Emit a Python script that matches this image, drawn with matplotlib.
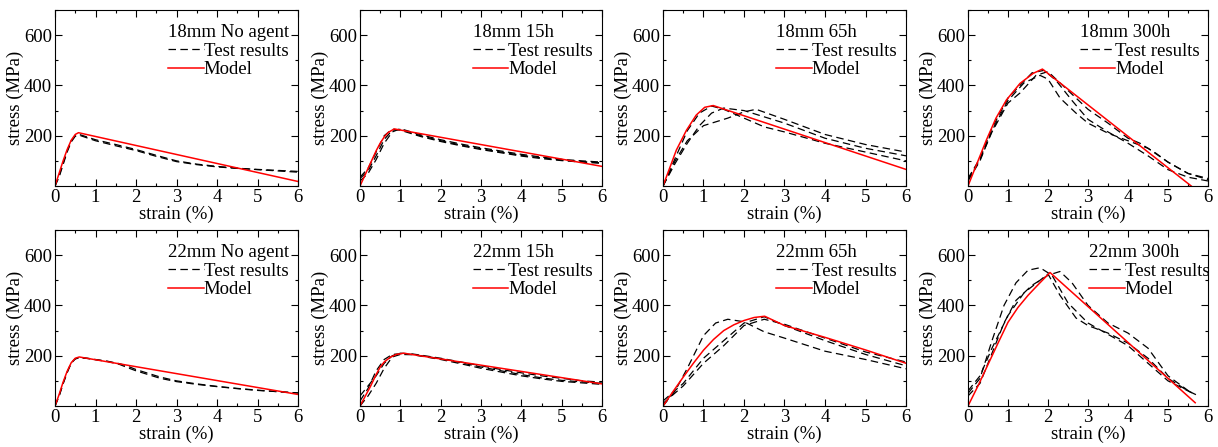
"""
Stress-strain curves: test results vs model, 18mm / 22mm bars under different exposure times.
"""
import numpy as np
import matplotlib
matplotlib.use("Agg")
import matplotlib.pyplot as plt
from matplotlib import rcParams
from matplotlib.ticker import MultipleLocator, FixedLocator

rcParams["font.family"] = "serif"
rcParams["font.serif"] = ["Liberation Serif", "DejaVu Serif"]
rcParams["font.size"] = 13.5

# ── 18mm No agent ────────────────────────────────────────────────────────────
NA18_MODEL_STRAIN = [0, 0.1, 0.2, 0.3, 0.4, 0.5, 0.58, 6.0]
NA18_MODEL_STRESS = [0, 50, 100, 145, 182, 205, 212, 18]
NA18_TEST_STRAIN = [0, 0.1, 0.2, 0.3, 0.4, 0.5, 0.6, 1.0, 1.5, 2.0, 2.5, 3.0, 3.5, 4.0, 4.5, 5.0, 5.5, 6.0]
NA18_TEST_STRESS = [
    [0, 40, 90, 140, 180, 200, 205, 184, 165, 145, 122, 100, 87, 78, 71, 65, 60, 55],
    [0, 35, 85, 135, 175, 198, 202, 180, 160, 141, 118, 97, 85, 76, 70, 66, 62, 58],
]

# ── 18mm 15h ─────────────────────────────────────────────────────────────────
H15_18_MODEL_STRAIN = [0, 0.1, 0.2, 0.3, 0.4, 0.5, 0.6, 0.7, 0.85, 6.0]
H15_18_MODEL_STRESS = [0, 35, 70, 105, 140, 170, 195, 213, 227, 78]
H15_18_TEST_STRAIN = [0, 0.2, 0.4, 0.6, 0.8, 1.0, 1.5, 2.0, 2.5, 3.0, 3.5, 4.0, 4.5, 5.0, 5.5, 6.0]
H15_18_TEST_STRESS = [
    [30, 60, 120, 185, 222, 225, 200, 180, 163, 148, 135, 122, 112, 103, 97, 92],
    [20, 50, 105, 170, 215, 228, 204, 184, 167, 152, 139, 126, 115, 106, 100, 95],
    [35, 70, 135, 200, 226, 222, 197, 177, 160, 145, 132, 119, 109, 101, 95, 90],
]

# ── 18mm 65h ─────────────────────────────────────────────────────────────────
H65_18_MODEL_STRAIN = [0, 0.15, 0.33, 0.58, 0.82, 1.03, 1.24, 6.0]
H65_18_MODEL_STRESS = [0, 65, 143, 222, 282, 313, 320, 66]
H65_18_TEST_STRAIN = [
    [0, 0.3, 0.6, 0.9, 1.2, 1.5, 2.0, 2.5, 3.0, 4.0, 5.0, 6.0],
    [0, 0.3, 0.6, 1.0, 1.3, 1.6, 2.0, 2.3, 3.0, 4.0, 5.0, 6.0],
    [0, 0.3, 0.6, 0.9, 1.2, 1.5, 2.0, 2.5, 3.0, 4.0, 5.0, 6.0],
]
H65_18_TEST_STRESS = [
    [0, 90, 170, 240, 290, 310, 300, 275, 250, 190, 150, 120],
    [0, 100, 180, 240, 255, 270, 295, 305, 265, 205, 165, 135],
    [0, 110, 220, 290, 318, 305, 270, 235, 215, 170, 135, 100],
]

# ── 18mm 300h ────────────────────────────────────────────────────────────────
H300_18_MODEL_STRAIN = [0, 0.2, 0.46, 0.7, 0.96, 1.3, 1.63, 1.86, 5.58]
H300_18_MODEL_STRESS = [0, 80, 183, 270, 342, 408, 448, 465, 0]
H300_18_TEST_STRAIN = [
    [0, 0.3, 0.6, 1.0, 1.4, 1.8, 2.0, 2.3, 2.7, 3.0, 3.5, 4.0, 4.5, 5.0, 5.5, 6.0],
    [0, 0.3, 0.6, 1.0, 1.3, 1.6, 1.9, 2.2, 2.6, 3.0, 3.5, 4.0, 4.5, 5.0, 5.5, 6.0],
    [0, 0.3, 0.6, 1.0, 1.3, 1.7, 2.0, 2.4, 3.0, 3.5, 4.0, 4.3, 4.7, 5.0, 5.5, 6.0],
]
H300_18_TEST_STRESS = [
    [20, 100, 220, 340, 410, 440, 425, 350, 290, 250, 210, 180, 150, 95, 50, 25],
    [30, 110, 230, 350, 400, 450, 460, 420, 340, 265, 215, 170, 120, 65, 35, 20],
    [25, 105, 215, 330, 370, 440, 455, 395, 305, 250, 190, 170, 130, 95, 50, 30],
]

# ── 22mm No agent ────────────────────────────────────────────────────────────
NA22_MODEL_STRAIN = [0, 0.1, 0.2, 0.3, 0.4, 0.5, 0.6, 6.0]
NA22_MODEL_STRESS = [0, 45, 95, 138, 172, 190, 195, 46]
NA22_TEST_STRAIN = [0, 0.1, 0.2, 0.3, 0.4, 0.5, 0.6, 0.8, 1.0, 1.3, 1.6, 1.8, 2.0, 2.3, 2.6,
                    3.0, 3.5, 4.0, 4.5, 5.0, 5.5, 6.0]
NA22_TEST_STRESS = [
    [0, 40, 90, 135, 172, 188, 193, 190, 185, 178, 168, 158, 145, 130, 115, 100, 88, 78, 70, 63, 57, 52],
    [0, 38, 88, 132, 170, 187, 192, 189, 184, 177, 165, 152, 140, 125, 110, 97, 86, 77, 69, 62, 57, 52],
]

# ── 22mm 15h ─────────────────────────────────────────────────────────────────
H15_22_MODEL_STRAIN = [0, 0.1, 0.25, 0.4, 0.5, 0.6, 0.75, 0.9, 1.08, 6.0]
H15_22_MODEL_STRESS = [0, 30, 75, 125, 155, 175, 194, 205, 210, 88]
H15_22_TEST_STRAIN = [0, 0.2, 0.4, 0.6, 0.8, 1.0, 1.3, 1.6, 2.0, 2.5, 3.0, 3.5, 4.0, 4.5, 5.0, 5.5, 6.0]
H15_22_TEST_STRESS = [
    [20, 70, 140, 185, 205, 208, 205, 198, 188, 172, 155, 140, 125, 112, 102, 96, 90],
    [40, 80, 120, 170, 200, 210, 207, 200, 190, 175, 160, 145, 132, 120, 110, 100, 95],
    [0, 40, 90, 150, 195, 205, 204, 196, 185, 168, 150, 135, 120, 108, 98, 92, 86],
]

# ── 22mm 65h ─────────────────────────────────────────────────────────────────
H65_22_MODEL_STRAIN = [0, 0.25, 0.5, 0.75, 1.0, 1.25, 1.5, 1.75, 2.0, 2.25, 2.51, 3.0, 4.0, 5.0, 6.0]
H65_22_MODEL_STRESS = [0, 58, 115, 170, 222, 265, 300, 323, 340, 352, 357, 320, 273, 223, 170]
H65_22_TEST_STRAIN = [
    [0, 0.3, 0.6, 1.0, 1.3, 1.6, 2.0, 2.5, 3.0, 4.0, 5.0, 6.0],
    [0, 0.5, 1.0, 1.5, 2.0, 2.5, 3.0, 4.0, 5.0, 6.0],
    [0, 0.5, 1.0, 1.5, 2.0, 2.5, 3.0, 4.0, 5.0, 6.0],
]
H65_22_TEST_STRESS = [
    [0, 60, 150, 280, 330, 345, 335, 295, 270, 218, 185, 148],
    [10, 80, 170, 240, 320, 345, 325, 270, 215, 175],
    [20, 90, 190, 260, 330, 355, 320, 260, 205, 160],
]

# ── 22mm 300h ────────────────────────────────────────────────────────────────
H300_22_MODEL_STRAIN = [0, 0.25, 0.5, 0.75, 1.0, 1.25, 1.5, 1.75, 2.05, 5.68]
H300_22_MODEL_STRESS = [0, 80, 165, 250, 333, 392, 440, 482, 531, 13]
H300_22_TEST_STRAIN = [
    [0, 0.3, 0.6, 0.9, 1.2, 1.5, 1.8, 2.1, 2.5, 3.0, 3.5, 4.0, 4.5, 5.0, 5.5, 5.7],
    [0, 0.3, 0.6, 0.9, 1.2, 1.6, 2.0, 2.3, 2.6, 3.0, 3.5, 4.0, 4.5, 5.0, 5.6],
    [0, 0.3, 0.6, 1.0, 1.4, 1.8, 2.0, 2.3, 2.7, 3.0, 3.5, 4.0, 4.5, 5.0, 5.5, 5.7],
]
H300_22_TEST_STRESS = [
    [50, 110, 260, 400, 490, 540, 550, 520, 410, 330, 285, 240, 170, 100, 60, 45],
    [40, 90, 210, 330, 420, 480, 520, 535, 490, 400, 330, 290, 230, 120, 50],
    [60, 120, 230, 360, 450, 500, 525, 440, 350, 320, 290, 250, 190, 110, 60, 45],
]

PANELS = [
    ("18mm No agent", NA18_MODEL_STRAIN, NA18_MODEL_STRESS, NA18_TEST_STRAIN, NA18_TEST_STRESS),
    ("18mm 15h", H15_18_MODEL_STRAIN, H15_18_MODEL_STRESS, H15_18_TEST_STRAIN, H15_18_TEST_STRESS),
    ("18mm 65h", H65_18_MODEL_STRAIN, H65_18_MODEL_STRESS, H65_18_TEST_STRAIN, H65_18_TEST_STRESS),
    ("18mm 300h", H300_18_MODEL_STRAIN, H300_18_MODEL_STRESS, H300_18_TEST_STRAIN, H300_18_TEST_STRESS),
    ("22mm No agent", NA22_MODEL_STRAIN, NA22_MODEL_STRESS, NA22_TEST_STRAIN, NA22_TEST_STRESS),
    ("22mm 15h", H15_22_MODEL_STRAIN, H15_22_MODEL_STRESS, H15_22_TEST_STRAIN, H15_22_TEST_STRESS),
    ("22mm 65h", H65_22_MODEL_STRAIN, H65_22_MODEL_STRESS, H65_22_TEST_STRAIN, H65_22_TEST_STRESS),
    ("22mm 300h", H300_22_MODEL_STRAIN, H300_22_MODEL_STRESS, H300_22_TEST_STRAIN, H300_22_TEST_STRESS),
]

W, H = 1218, 447
fig = plt.figure(figsize=(W / 100, H / 100), dpi=100)

# axes boxes in pixels (left, right); rows (top, bottom)
cols = [(55, 298), (360, 602), (663, 906), (968, 1208)]
rows = [(10, 186), (230, 406)]
leg_x = [0.465, 0.465, 0.465, 0.465, 0.465, 0.465, 0.465, 0.505]

for k, (name, mx, my, tx, ty) in enumerate(PANELS):
    l, r = cols[k % 4]
    t, b = rows[k // 4]
    ax = fig.add_axes([l / W, 1 - b / H, (r - l) / W, (b - t) / H])

    for i, ys in enumerate(ty):
        xs = tx[i] if isinstance(tx[0], list) else tx
        h_test, = ax.plot(xs, ys, color="black", lw=0.9, dashes=(6, 3.5))
    h_model, = ax.plot(mx, my, color="#ff0000", lw=1.1)

    ax.set_xlim(0, 6)
    ax.set_ylim(0, 700)
    ax.xaxis.set_major_locator(MultipleLocator(1))
    ax.xaxis.set_minor_locator(MultipleLocator(0.5))
    ax.yaxis.set_major_locator(FixedLocator([200, 400, 600]))
    ax.yaxis.set_minor_locator(MultipleLocator(100))
    ax.tick_params(which="both", direction="in", top=True, right=True, labelsize=13.5, pad=2)
    ax.tick_params(which="major", length=5, width=0.8)
    ax.tick_params(which="minor", length=2.5, width=0.8)
    ax.set_xlabel("strain (%)", fontsize=13.5, labelpad=0)
    ax.set_ylabel("stress (MPa)", fontsize=13.5, labelpad=0)

    leg = ax.legend([h_test, h_model], ["Test results", "Model"], title=name,
                    title_fontsize=13.5, fontsize=13.5, alignment="left",
                    loc="upper left", bbox_to_anchor=(leg_x[k], 0.92),
                    frameon=False, borderpad=0, borderaxespad=0,
                    handlelength=1.9, handletextpad=0.0, labelspacing=0.08)
    leg._legend_box.sep = 1

fig.savefig("out.png", dpi=100)
